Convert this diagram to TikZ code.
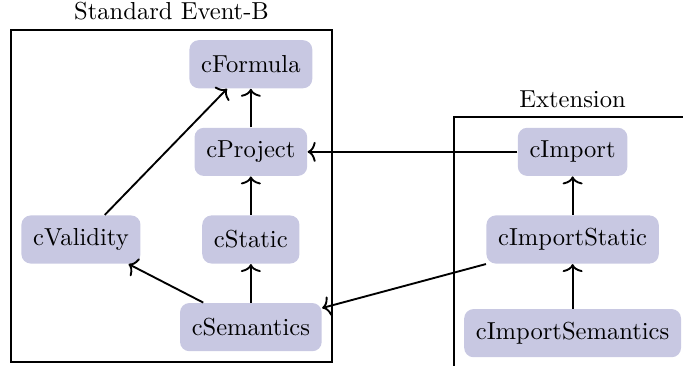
\documentclass[tikz,border=0pt]{standalone}
\usepackage{xcolor}
\usepackage{tikz}
\usetikzlibrary{positioning}
\usetikzlibrary{shapes,arrows,arrows.meta,positioning,fit}
\definecolor{boxblue}{RGB}{200,200,226}
\tikzstyle{block} = [rectangle, fill=boxblue, text centered, rounded corners, minimum height=0.72cm, inner xsep=5pt]
\tikzstyle{line} = [draw, thick, -{To[width=8.5pt, length=3.4pt]}]
\tikzstyle{group} = [draw, thick, inner sep=4.3pt]

\begin{document}
\begin{tikzpicture}[node distance = 1.31cm, auto, font=\fontsize{10.45pt}{12.5pt}\selectfont]
    \path [use as bounding box, clip] (-3.75,-4.51) rectangle (6.46,0.96);
    % nodes
    \node [block] (cformula) at (0,0) {cFormula};
    \node [block, below of=cformula] (cproject) {cProject};
    \node [block, below of=cproject] (cstatic) {cStatic};
    \node [block, below of=cstatic] (csemantics) {cSemantics};
    \node [block, left of=cstatic, xshift=-1.23cm] (cvalidity) {cValidity};
    \node [block, right of=cproject, xshift=3.5cm] (cimport) {cImport};
    \node [block, below of=cimport] (cimportstatic) {cImportStatic};
    \node [block, below of=cimportstatic, yshift=-0.09cm] (cimportsemantics) {cImportSemantics};
    % groups
    \node [group, fit=(cformula) (cvalidity) (csemantics), label={above:Standard Event-B}] (standard) {};
    \node [group, fit=(cimport) (cimportstatic) (cimportsemantics), label={above:Extension}] (extension) {};

    % edges
         \path [line] (cproject) -- (cformula);
         \path [line] (cstatic) -- (cproject);
         \path [line] (csemantics) -- (cstatic);
         \path [line] (csemantics) -- (cvalidity);
         \path [line] (cvalidity) -- (cformula);
         \path [line] (cimport) -- (cproject);
         \path [line] (cimportstatic.south west) -- (csemantics);
         \path [line] (cimportstatic) -- (cimport);
         \path [line] (cimportsemantics) -- (cimportstatic);

  \end{tikzpicture}
\end{document}
